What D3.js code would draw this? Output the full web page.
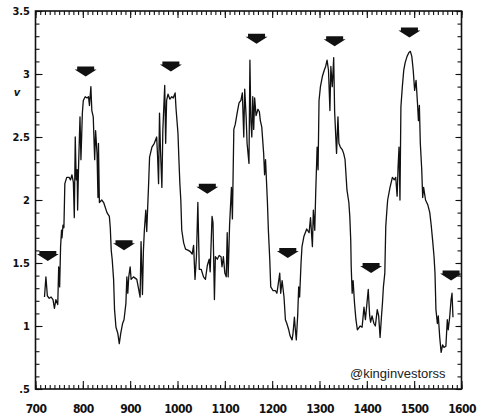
<!DOCTYPE html>
<html>
<head>
<meta charset="utf-8">
<script src="https://cdn.jsdelivr.net/npm/d3@7"></script>
<style>
  html, body { margin: 0; padding: 0; background: #fff; }
  svg { display: block; }
</style>
</head>
<body>
<svg id="chart" width="493" height="420"></svg>
<script>
// ---- data ----
const xs = [719,722,725,729,733,737,740,743,747,749,751,753,755,756,758,760,762,766,771,774,777,780,782,784,786,788,789,791,794,796,799,801,805,809,812,814,817,819,822,825,827,830,832,833,835,840,844,851,856,858,860,862,865,867,870,874,877,880,884,887,891,893,895,897,900,902,907,914,918,921,923,926,928,930,933,935,939,941,946,951,956,958,960,962,964,967,969,973,975,977,980,984,988,991,995,997,1001,1003,1005,1007,1009,1013,1017,1023,1027,1031,1034,1037,1040,1043,1046,1050,1055,1059,1063,1067,1069,1073,1075,1078,1080,1084,1088,1092,1094,1097,1100,1103,1105,1107,1110,1114,1116,1119,1122,1126,1130,1134,1137,1140,1142,1145,1147,1151,1153,1155,1157,1159,1161,1163,1166,1170,1173,1175,1178,1182,1184,1186,1190,1192,1195,1197,1202,1207,1210,1212,1216,1218,1221,1225,1228,1231,1235,1238,1242,1244,1247,1249,1251,1254,1256,1258,1261,1263,1267,1273,1278,1281,1285,1287,1290,1292,1295,1297,1299,1302,1306,1310,1313,1316,1319,1322,1324,1327,1330,1332,1336,1339,1341,1344,1348,1351,1354,1358,1362,1364,1366,1367,1369,1371,1374,1377,1380,1386,1390,1394,1397,1401,1403,1406,1408,1411,1415,1418,1422,1425,1428,1431,1433,1435,1438,1440,1442,1444,1449,1454,1458,1461,1464,1466,1468,1470,1472,1475,1478,1481,1485,1489,1492,1495,1498,1501,1504,1507,1509,1511,1513,1516,1518,1520,1524,1529,1533,1536,1539,1542,1544,1546,1549,1551,1554,1557,1560,1563,1567,1570,1572,1575,1578,1580,1582];
const vs = [1.23,1.39,1.24,1.22,1.23,1.21,1.14,1.21,1.17,1.47,1.31,1.63,1.76,1.70,1.80,1.78,2.13,2.18,2.18,2.16,2.20,2.14,1.86,2.50,2.16,2.24,1.92,2.27,2.66,2.32,2.69,2.79,2.82,2.81,2.82,2.75,2.90,2.71,2.66,2.32,2.55,2.37,2.02,2.45,1.98,2.00,1.98,1.90,1.87,1.78,1.60,1.53,1.37,1.13,0.99,0.94,0.86,0.94,1.02,1.05,1.18,1.39,1.26,1.39,1.47,1.37,1.39,1.37,1.29,1.23,1.67,1.25,1.60,1.76,1.92,1.75,2.13,2.34,2.42,2.45,2.50,2.34,2.13,2.69,2.40,2.10,2.55,2.91,2.45,2.79,2.84,2.80,2.82,2.81,2.85,2.72,2.53,2.32,2.13,2.00,1.76,1.66,1.61,1.60,1.59,1.57,1.64,1.37,1.55,1.98,1.45,1.45,1.39,1.37,1.48,1.53,1.43,1.87,1.82,1.21,1.55,1.53,1.56,1.55,1.47,1.55,1.42,1.39,1.74,1.39,1.80,2.10,1.85,2.56,2.60,2.69,2.77,2.79,2.85,2.50,2.88,2.66,2.45,2.29,3.11,2.63,2.50,2.82,2.56,2.81,2.67,2.72,2.70,2.63,2.58,2.37,2.20,2.32,1.98,1.76,1.52,1.31,1.28,1.28,1.26,1.31,1.42,1.26,1.36,1.23,1.05,1.02,0.97,0.92,0.89,0.94,1.07,0.97,0.89,1.09,1.31,1.23,1.50,1.63,1.71,1.77,1.74,1.86,1.63,1.92,1.76,2.06,2.42,2.24,2.79,2.90,2.98,3.03,3.06,3.11,3.03,2.71,3.06,2.90,3.13,2.70,2.37,2.66,2.45,2.42,2.40,2.37,2.32,2.08,1.98,1.87,1.68,1.47,1.26,1.36,1.18,1.05,0.97,1.00,0.99,1.15,1.05,1.21,1.29,1.08,1.03,1.08,1.02,1.00,1.13,1.08,0.91,1.08,1.18,1.31,1.42,1.79,1.90,2.00,2.10,2.18,2.16,2.18,2.03,2.26,2.42,2.00,2.74,2.90,3.03,3.09,3.14,3.17,3.18,3.14,3.03,2.87,2.95,2.77,2.63,2.75,2.45,2.24,2.02,2.10,2.00,1.96,1.90,1.80,1.68,1.55,1.42,1.13,1.02,1.08,0.91,0.79,0.85,0.83,0.84,1.05,0.97,1.07,1.21,1.26,1.07];

const arrowXs = [726, 806, 887, 986, 1063, 1167, 1233, 1332, 1409, 1490, 1578];
const arrowVs = [1.556, 3.02, 1.64, 3.06, 2.09, 3.28, 1.58, 3.26, 1.46, 3.33, 1.40];

const xTickValues = [700,800,900,1000,1100,1200,1300,1400,1500,1600];
const yTickValues = [0.5,1,1.5,2,2.5,3,3.5];
const yTickLabels = [".5","1","1.5","2","2.5","3","3.5"];
const yAxisLabel = "v";
const watermark = "@kinginvestorss";

// ---- layout ----
const L = 35.5, R = 461.5, T = 11, B = 389;
const svg = d3.select("#chart");
const x = d3.scaleLinear().domain([700, 1600]).range([L, R]);
const y = d3.scaleLinear().domain([0.5, 3.5]).range([B, T]);

const xMinor = d3.range(700, 1601, 10);
const yMinor = d3.range(5, 36, 1).map(d => d / 10);
const labelFont = "'Liberation Sans Narrow','DejaVu Sans Condensed','Liberation Sans',sans-serif";

function styleAxis(g) {
  g.select(".domain").remove();
  g.selectAll("line").attr("stroke", "#111").attr("stroke-width", 1.1);
}

// bottom axis
svg.append("g").attr("transform", `translate(0,${B})`)
  .call(d3.axisBottom(x).tickValues(xMinor).tickSize(-4).tickFormat(""))
  .call(styleAxis);
svg.append("g").attr("transform", `translate(0,${B})`)
  .call(d3.axisBottom(x).tickValues(xTickValues).tickSize(-8).tickPadding(15.5).tickFormat(d3.format("d")))
  .call(styleAxis)
  .call(g => g.selectAll("text").attr("font-family", labelFont).attr("font-weight", "bold")
    .attr("font-size", 12).attr("fill", "#111").attr("letter-spacing", "-0.6px"));

// top axis
svg.append("g").attr("transform", `translate(0,${T})`)
  .call(d3.axisTop(x).tickValues(xMinor).tickSize(-4).tickFormat(""))
  .call(styleAxis);
svg.append("g").attr("transform", `translate(0,${T})`)
  .call(d3.axisTop(x).tickValues(xTickValues).tickSize(-7).tickFormat(""))
  .call(styleAxis);

// left axis
svg.append("g").attr("transform", `translate(${L},0)`)
  .call(d3.axisLeft(y).tickValues(yMinor).tickSize(-4).tickFormat(""))
  .call(styleAxis);
svg.append("g").attr("transform", `translate(${L},0)`)
  .call(d3.axisLeft(y).tickValues(yTickValues).tickSize(-7).tickPadding(5.5)
    .tickFormat((d, i) => yTickLabels[i]))
  .call(styleAxis)
  .call(g => g.selectAll("text").attr("font-family", labelFont).attr("font-weight", "bold")
    .attr("font-size", 11).attr("fill", "#111"));

// right axis
svg.append("g").attr("transform", `translate(${R},0)`)
  .call(d3.axisRight(y).tickValues(yMinor).tickSize(-4).tickFormat(""))
  .call(styleAxis);
svg.append("g").attr("transform", `translate(${R},0)`)
  .call(d3.axisRight(y).tickValues(yTickValues).tickSize(-6).tickFormat(""))
  .call(styleAxis);

// frame
svg.append("rect").attr("x", L).attr("y", T).attr("width", R - L).attr("height", B - T)
  .attr("fill", "none").attr("stroke", "#111").attr("stroke-width", 1.6);

// y label
svg.append("text").attr("x", 17).attr("y", 96).attr("text-anchor", "middle")
  .attr("font-family", "'DejaVu Sans',sans-serif").attr("font-style", "italic")
  .attr("font-weight", "bold").attr("font-size", 10).attr("fill", "#111").text(yAxisLabel);

// line
const pts = xs.map((d, i) => [d, vs[i]]);
svg.append("path").datum(pts)
  .attr("fill", "none").attr("stroke", "#111").attr("stroke-width", 1.3)
  .attr("stroke-linejoin", "round")
  .attr("d", d3.line().x(d => x(d[0])).y(d => y(d[1])));

// arrows
const arrowShape = "M-8.5,-5 L8.5,-5 L8.5,-2 L11,-2 L0,5 L-11,-2 L-8.5,-2 Z";
svg.append("g").selectAll("path").data(arrowXs.map((d, i) => [d, arrowVs[i]]))
  .join("path")
  .attr("transform", d => `translate(${x(d[0])},${y(d[1])})`)
  .attr("d", arrowShape)
  .attr("fill", "#111");

// watermark
svg.append("text").attr("x", 350).attr("y", 378)
  .attr("font-family", "'Liberation Sans',Arial,sans-serif").attr("font-size", 13)
  .attr("fill", "#222").text(watermark);
</script>
</body>
</html>
